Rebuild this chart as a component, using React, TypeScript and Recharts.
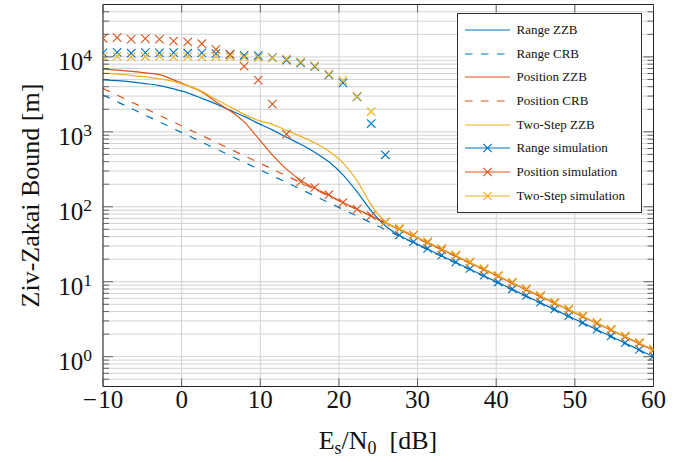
import React from 'react';
import { ComposedChart, Line, XAxis, YAxis, CartesianGrid, Legend, ReferenceLine } from 'recharts';

const FONT = '"Liberation Serif", "Times New Roman", serif';
const BLUE = '#0072BD';
const ORANGE = '#D95319';
const YELLOW = '#EDB120';

const snrDb = [
  -10, -8.205, -6.41, -4.615, -2.821, -1.026, 0.769, 2.564, 4.359, 6.154,
  7.949, 9.744, 11.538, 13.333, 15.128, 16.923, 18.718, 20.513, 22.308, 24.103,
  25.897, 27.692, 29.487, 31.282, 33.077, 34.872, 36.667, 38.462, 40.256, 42.051,
  43.846, 45.641, 47.436, 49.231, 51.026, 52.821, 54.615, 56.41, 58.205, 60,
];

const rangeZZB = [
  4935, 4816, 4642, 4406, 4143, 3745, 3311, 2797, 2362, 1935,
  1609, 1298, 1063, 845, 681, 533, 398, 267, 158.5, 88.4,
  55.8, 41.3, 33.5, 27.2, 22.1, 18.05, 14.7, 11.95, 9.72, 7.9,
  6.43, 5.22, 4.25, 3.46, 2.81, 2.29, 1.86, 1.51, 1.23, 1.0,
];

const rangeCRB = [
  3099, 2521, 2050, 1667, 1356, 1103, 897, 729.5, 593.3, 482.5,
  392.5, 319.2, 259.6, 211.2, 171.7, 139.7, 113.6, 92.4, 75.1, 61.1,
  49.7, 40.4, 32.9, 26.7, 21.7, 17.7, 14.4, 11.7, 9.52, 7.74,
  6.3, 5.12, 4.16, 3.39, 2.75, 2.24, 1.82, 1.48, 1.205, 0.98,
];

const positionZZB = [
  6855, 6646, 6408, 6118, 5808, 4935, 4143, 3415, 2512, 1905,
  1359, 819, 494, 318, 226, 176.5, 143.2, 114.2, 92.9, 75.5,
  61.5, 50, 40.7, 33, 26.9, 21.9, 17.8, 14.47, 11.77, 9.57,
  7.79, 6.33, 5.15, 4.19, 3.4, 2.77, 2.25, 1.83, 1.49, 1.21,
];

const positionCRB = [
  3795, 3086, 2510, 2042, 1661, 1351, 1098, 893, 726.6, 591,
  480.6, 390.9, 317.9, 258.5, 210.3, 171, 139.1, 113.1, 92, 74.8,
  60.9, 49.5, 40.3, 32.7, 26.6, 21.7, 17.6, 14.33, 11.65, 9.48,
  7.71, 6.27, 5.1, 4.15, 3.37, 2.74, 2.23, 1.81, 1.475, 1.2,
];

const twoStepZZB = [
  6063, 5898, 5667, 5412, 5089, 4713, 4105, 3467, 2713, 2154,
  1711, 1423, 1259, 1047, 871, 713, 550, 386, 222, 106.3,
  63.1, 51, 41.5, 33.7, 27.4, 22.4, 18.1, 14.8, 12.0, 9.76,
  7.94, 6.46, 5.25, 4.27, 3.47, 2.82, 2.3, 1.86, 1.52, 1.24,
];

const rangeSim = [
  11300, 11500, 11200, 11400, 11300, 11400, 11200, 11300, 11100, 10700,
  10500, 10400, 9800, 9040, 8320, 7430, 5750, 4500, 2930, 1290,
  494, 42.0, 34.2, 27.8, 22.6, 18.4, 15.0, 12.2, 9.9, 8.05,
  6.55, 5.32, 4.33, 3.53, 2.86, 2.33, 1.89, 1.54, 1.25, 1.02,
];

const positionSim = [
  17700, 18100, 17200, 17500, 17200, 16300, 15800, 15000, 12600, 10900,
  7500, 4900, 2340, 930, 217, 181, 145, 114, 93, 76,
  62.5, 50.5, 42, 33.4, 26.7, 22.2, 18.1, 14.6, 11.9, 9.7,
  7.9, 6.4, 5.2, 4.25, 3.45, 2.8, 2.28, 1.85, 1.51, 1.23,
];

const twoStepSim = [
  10100, 10200, 10000, 10100, 10200, 10000, 10100, 10000, 10100, 10000,
  9900, 9800, 9700, 9400, 8570, 7590, 5880, 4860, 2970, 1865,
  63, 52, 42.3, 34.4, 27.9, 22.8, 18.5, 15.0, 12.2, 9.95,
  8.1, 6.6, 5.35, 4.35, 3.54, 2.88, 2.34, 1.9, 1.55, 1.27,
];

const xTicks = [-10, 0, 10, 20, 30, 40, 50, 60];
const xDomain = [-10, 60];
const yDomain = [0.4, 50000];
const yMajor = [1, 10, 100, 1000, 10000];
const yMinor = [
  0.5, 0.6, 0.7, 0.8, 0.9,
  2, 3, 4, 5, 6, 7, 8, 9,
  20, 30, 40, 50, 60, 70, 80, 90,
  200, 300, 400, 500, 600, 700, 800, 900,
  2000, 3000, 4000, 5000, 6000, 7000, 8000, 9000,
  20000, 30000, 40000,
];
const yTicksAll = [...yMinor, ...yMajor].sort((a, b) => a - b);

const legendItems = [
  { name: 'Range ZZB', color: BLUE, dashed: false, marker: false },
  { name: 'Range CRB', color: BLUE, dashed: true, marker: false },
  { name: 'Position ZZB', color: ORANGE, dashed: false, marker: false },
  { name: 'Position CRB', color: ORANGE, dashed: true, marker: false },
  { name: 'Two-Step ZZB', color: YELLOW, dashed: false, marker: false },
  { name: 'Range simulation', color: BLUE, dashed: false, marker: true },
  { name: 'Position simulation', color: ORANGE, dashed: false, marker: true },
  { name: 'Two-Step simulation', color: YELLOW, dashed: false, marker: true },
];

const rows = snrDb.map((x, i) => ({
  x,
  rangeZZB: rangeZZB[i],
  rangeCRB: rangeCRB[i],
  positionZZB: positionZZB[i],
  positionCRB: positionCRB[i],
  twoStepZZB: twoStepZZB[i],
  rangeSim: rangeSim[i],
  positionSim: positionSim[i],
  twoStepSim: twoStepSim[i],
}));

// layout constants (pixels)
const W = 692;
const H = 462;
const PLOT_LEFT = 103;
const PLOT_RIGHT = 653.5;
const PLOT_TOP = 4.5;
const PLOT_BOTTOM = 386.5;

const TICK_COLOR = '#444';
const FRAME = '#222';
const DASH = '7.5 8.5';

const makeX = (color: string) => (props: any) => {
  const { cx, cy, index } = props;
  if (cx == null || cy == null || isNaN(cx) || isNaN(cy)) return <g key={`e${index}`} />;
  const r = 4.2;
  return (
    <path
      key={`m${index}`}
      d={`M${cx - r},${cy - r}L${cx + r},${cy + r}M${cx - r},${cy + r}L${cx + r},${cy - r}`}
      stroke={color}
      strokeWidth={1.1}
      fill="none"
    />
  );
};

const XTick = (p: any) => {
  const { x, y, payload } = p;
  const v = payload.value;
  return (
    <g>
      <line x1={x} x2={x} y1={y} y2={y - 8} stroke={TICK_COLOR} strokeWidth={0.8} />
      <line x1={x} x2={x} y1={PLOT_TOP} y2={PLOT_TOP + 8} stroke={TICK_COLOR} strokeWidth={0.8} />
      <text x={x} y={y + 21.5} textAnchor="middle" fontFamily={FONT} fontSize={25} fill="#111">
        {v < 0 ? (
          <>
            {'\u2212'}
            <tspan dx={1.5}>{Math.abs(v)}</tspan>
          </>
        ) : (
          `${v}`
        )}
      </text>
    </g>
  );
};

const YTick = (p: any) => {
  const { x, y, payload } = p;
  const v = payload.value;
  const major = yMajor.includes(v);
  const exp = Math.round(Math.log10(v));
  const len = major ? 10 : 6;
  return (
    <g>
      <line x1={x} x2={x + len} y1={y} y2={y} stroke={TICK_COLOR} strokeWidth={0.8} />
      <line x1={PLOT_RIGHT} x2={PLOT_RIGHT - len} y1={y} y2={y} stroke={TICK_COLOR} strokeWidth={0.8} />
      {major && (
        <text x={x - 11} y={y + 13} textAnchor="end" fontFamily={FONT} fontSize={25} fill="#111">
          10
          <tspan dy={-9} fontSize={17.5}>
            {exp}
          </tspan>
        </text>
      )}
    </g>
  );
};

const YLabel = () => (
  <text
    x={39}
    y={195.5}
    transform="rotate(-90 39 195.5)"
    textAnchor="middle"
    fontFamily={FONT}
    fontSize={26}
    fill="#111"
  >
    Ziv-Zakai Bound [m]
  </text>
);

const XLabel = () => (
  <text x={378} y={449} textAnchor="middle" fontFamily={FONT} fontSize={26} fill="#111">
    E
    <tspan fontSize={18} dy={5}>s</tspan>
    <tspan dy={-5}>/N</tspan>
    <tspan fontSize={18} dy={5}>0</tspan>
    <tspan dy={-5}>{'\u2002[dB]'}</tspan>
  </text>
);

const renderLegend = () => (
  <div
    style={{
      boxSizing: 'border-box',
      width: 185,
      height: 200,
      border: '1px solid #333',
      background: '#fff',
      paddingTop: 4,
      fontFamily: FONT,
      fontSize: 13,
      color: '#111',
      textAlign: 'left',
    }}
  >
    {legendItems.map((it) => (
      <div key={it.name} style={{ height: 23.7, display: 'flex', alignItems: 'center' }}>
        <svg width={45} height={12} style={{ marginLeft: 7, marginRight: 6.5, flex: 'none' }}>
          <line
            x1={0}
            x2={45}
            y1={6}
            y2={6}
            stroke={it.color}
            strokeWidth={1.2}
            strokeDasharray={it.dashed ? DASH : undefined}
          />
          {it.marker && (
            <path d="M18.3,1.8L26.7,10.2M18.3,10.2L26.7,1.8" stroke={it.color} strokeWidth={1.1} fill="none" />
          )}
        </svg>
        <span style={{ whiteSpace: 'nowrap', lineHeight: '14px' }}>{it.name}</span>
      </div>
    ))}
  </div>
);

export default function App() {
  return (
    <div style={{ position: 'absolute', left: 0, top: 0, background: '#fff' }}>
      <ComposedChart
        width={W}
        height={H}
        data={rows}
        margin={{ top: PLOT_TOP, right: W - PLOT_RIGHT, bottom: 25.5, left: 43 }}
      >
        <CartesianGrid stroke="#d2d2d2" strokeWidth={1} />
        <XAxis
          dataKey="x"
          type="number"
          domain={xDomain}
          ticks={xTicks}
          interval={0}
          allowDataOverflow
          tickSize={0}
          tickMargin={0}
          tick={<XTick />}
          axisLine={{ stroke: FRAME, strokeWidth: 1 }}
          tickLine={false}
          height={H - PLOT_BOTTOM - 25.5}
          label={<XLabel />}
        />
        <YAxis
          type="number"
          scale="log"
          domain={yDomain}
          ticks={yTicksAll}
          interval={0}
          allowDataOverflow
          tickSize={0}
          tickMargin={0}
          tick={<YTick />}
          axisLine={{ stroke: FRAME, strokeWidth: 1 }}
          tickLine={false}
          width={PLOT_LEFT - 43}
          label={<YLabel />}
        />
        <ReferenceLine x={xDomain[1]} stroke={FRAME} strokeWidth={1} />
        <ReferenceLine y={yDomain[1]} stroke={FRAME} strokeWidth={1} />
        <Line dataKey="rangeZZB" type="monotone" stroke={BLUE} strokeWidth={1.2} dot={false} activeDot={false} isAnimationActive={false} />
        <Line dataKey="rangeCRB" type="linear" stroke={BLUE} strokeWidth={1.2} strokeDasharray={DASH} dot={false} activeDot={false} isAnimationActive={false} />
        <Line dataKey="positionZZB" type="monotone" stroke={ORANGE} strokeWidth={1.2} dot={false} activeDot={false} isAnimationActive={false} />
        <Line dataKey="positionCRB" type="linear" stroke={ORANGE} strokeWidth={1.2} strokeDasharray={DASH} dot={false} activeDot={false} isAnimationActive={false} />
        <Line dataKey="twoStepZZB" type="monotone" stroke={YELLOW} strokeWidth={1.2} dot={false} activeDot={false} isAnimationActive={false} />
        <Line dataKey="rangeSim" stroke="none" dot={makeX(BLUE)} activeDot={false} isAnimationActive={false} />
        <Line dataKey="positionSim" stroke="none" dot={makeX(ORANGE)} activeDot={false} isAnimationActive={false} />
        <Line dataKey="twoStepSim" stroke="none" dot={makeX(YELLOW)} activeDot={false} isAnimationActive={false} />
        <Legend
          layout="vertical"
          align="center"
          verticalAlign="middle"
          content={renderLegend}
          wrapperStyle={{ position: 'absolute', left: 457, top: 13, width: 185, height: 200 }}
        />
      </ComposedChart>
    </div>
  );
}
